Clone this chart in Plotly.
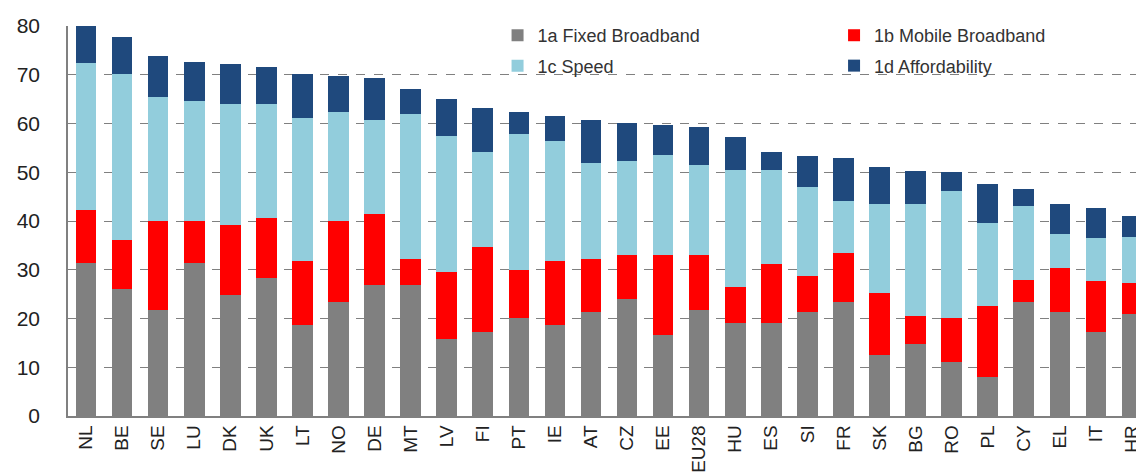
import plotly.graph_objects as go

countries = ["NL","BE","SE","LU","DK","UK","LT","NO","DE","MT","LV","FI","PT","IE","AT","CZ",
             "EE","EU28","HU","ES","SI","FR","SK","BG","RO","PL","CY","EL","IT","HR"]
fixed = [31.4,26.0,21.8,31.4,24.9,28.4,18.7,23.3,26.9,26.9,15.7,17.2,20.2,18.7,21.4,24.1,
         16.7,21.7,19.1,19.1,21.4,23.3,12.5,14.8,11.0,7.9,23.3,21.4,17.2,21.0]
mobile = [10.9,10.1,18.1,8.5,14.3,12.3,13.1,16.7,14.6,5.4,13.8,17.4,9.7,13.1,10.9,8.9,
          16.3,11.3,7.4,12.0,7.4,10.1,12.8,5.8,9.2,14.7,4.7,8.9,10.4,6.2]
speed = [30.1,34.1,25.5,24.7,24.7,23.2,29.4,22.4,19.3,29.6,27.9,19.6,27.9,24.7,19.6,19.3,
         20.5,18.5,23.9,19.3,18.1,10.8,18.1,22.8,26.0,17.0,15.0,7.0,8.9,9.6]
afford = [7.6,7.5,8.5,8.1,8.4,7.7,9.0,7.3,8.5,5.1,7.6,8.9,4.5,5.0,8.8,7.8,
          6.1,7.7,6.9,3.8,6.5,8.8,7.7,6.9,3.8,8.0,3.5,6.1,6.1,4.3]

series = [
    ("1a Fixed Broadband", fixed, "#808080", "legend"),
    ("1b Mobile Broadband", mobile, "#FF0000", "legend2"),
    ("1c Speed", speed, "#92CDDC", "legend"),
    ("1d Affordability", afford, "#1F497D", "legend2"),
]

fig = go.Figure()
for name, vals, col, lg in series:
    fig.add_trace(go.Bar(x=countries, y=vals, name=name, legend=lg, legendgroup=name,
                         marker=dict(color=col, line=dict(width=0))))

legend_common = dict(
    orientation="v", y=1.023, xanchor="left", yanchor="top",
    bgcolor="rgba(0,0,0,0)",
    font=dict(family="Liberation Sans", size=18, color="#333333"),
    traceorder="grouped", itemwidth=30, tracegroupgap=4,
)

fig.update_layout(
    barmode="stack",
    bargap=0.43,
    width=1144, height=475,
    margin=dict(l=60, r=2, t=18, b=67),
    plot_bgcolor="white", paper_bgcolor="white",
    font=dict(family="Liberation Sans", size=20, color="#222222"),
    showlegend=True,
    legend=dict(x=0.397, **legend_common),
    legend2=dict(x=0.708, **legend_common),
)
fig.update_yaxes(
    range=[0, 80], dtick=10, showgrid=True, gridcolor="#808080", griddash="dash", gridwidth=1,
    showline=True, linecolor="#808080", linewidth=1.5, zeroline=False,
    ticks="", ticklabelstandoff=22, tickfont=dict(size=21), automargin=False,
)
fig.update_xaxes(
    showline=True, linecolor="#808080", linewidth=1.5, tickangle=-90, ticks="",
    ticklabelstandoff=0, tickfont=dict(size=19), automargin=False,
)
fig.write_html("out.html")
